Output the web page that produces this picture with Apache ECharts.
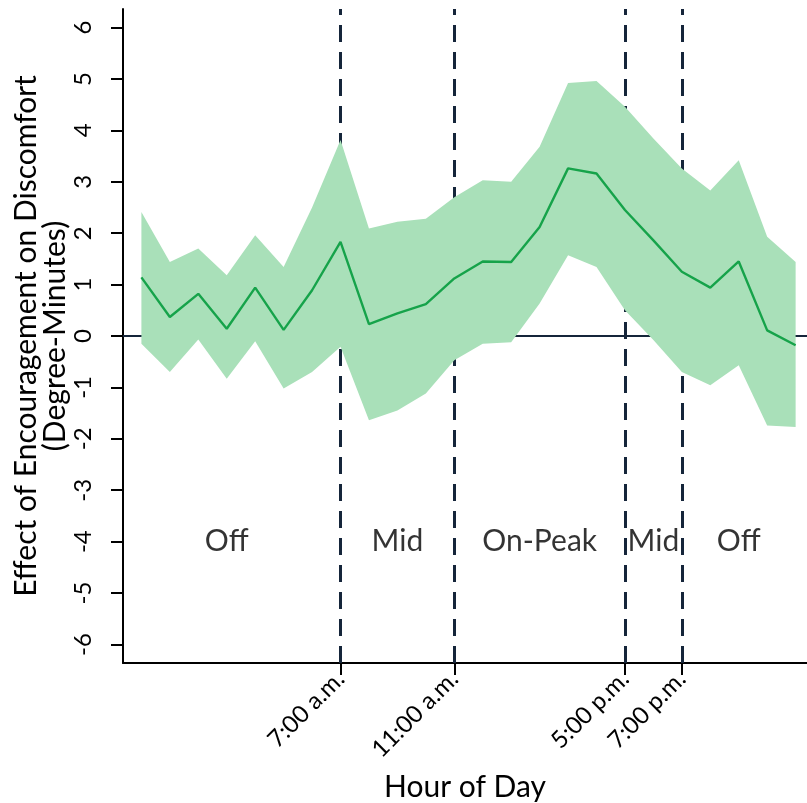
<!DOCTYPE html>
<html>
<head>
<meta charset="utf-8">
<script src="https://cdn.jsdelivr.net/npm/echarts@6/dist/echarts.min.js"></script>
<style>
html,body{margin:0;padding:0;background:#fff;}
#chart{width:807px;height:803px;}
</style>
</head>
<body>
<div id="chart"></div>
<script>
// ---- data ----
const hours = [0,1,2,3,4,5,6,7,8,9,10,11,12,13,14,15,16,17,18,19,20,21,22,23];
const estimate = [1.14,0.37,0.82,0.14,0.94,0.12,0.89,1.83,0.23,0.44,0.62,1.12,1.45,1.44,2.12,3.26,3.16,2.45,1.86,1.25,0.94,1.45,0.11,-0.18];
const upperCI = [2.41,1.44,1.70,1.18,1.96,1.34,2.50,3.81,2.09,2.22,2.28,2.70,3.03,3.00,3.68,4.92,4.96,4.46,3.84,3.26,2.83,3.42,1.93,1.44];
const lowerCI = [-0.15,-0.70,-0.07,-0.83,-0.10,-1.02,-0.70,-0.21,-1.64,-1.45,-1.12,-0.47,-0.15,-0.12,0.63,1.57,1.34,0.50,-0.08,-0.70,-0.96,-0.57,-1.74,-1.77];
const boundaryHours = [7, 11, 17, 19];
const boundaryLabels = ['7:00 a.m.', '11:00 a.m.', '5:00 p.m.', '7:00 p.m.'];
const yTicks = [-6,-5,-4,-3,-2,-1,0,1,2,3,4,5,6];
const periodNames = ['Off', 'Mid', 'On-Peak', 'Mid', 'Off'];
const periodHours = [3, 9, 14, 18, 21];
const periodY = [-4, -4, -4, -4, -4];

const FONT = 'Lato';
const NAVY = '#15253a';

const chart = echarts.init(document.getElementById('chart'), null, {renderer: 'canvas'});

const option = {
  animation: false,
  backgroundColor: '#ffffff',
  textStyle: {fontFamily: FONT},
  grid: {left: 123, right: 0, top: 9, bottom: 140, containLabel: false, outerBoundsMode: 'none'},
  xAxis: [{
    type: 'value',
    min: -0.647,
    max: 23.4,
    position: 'bottom',
    axisLine: {show: true, onZero: false, lineStyle: {color: '#000', width: 2}},
    axisTick: {show: true, customValues: boundaryHours, length: 12, lineStyle: {color: '#000', width: 2}},
    axisLabel: {
      show: true, customValues: boundaryHours, rotate: 45, fontSize: 24, margin: 12,
      color: '#000', fontFamily: FONT,
      formatter: function (v) { const i = boundaryHours.indexOf(Math.round(v)); return i >= 0 ? boundaryLabels[i] : ''; }
    },
    splitLine: {show: false},
    name: 'Hour of Day',
    nameLocation: 'middle',
    nameGap: 109,
    nameMoveOverlap: false,
    nameTextStyle: {fontSize: 30, color: '#000', fontFamily: FONT}
  }, {
    type: 'value',
    min: -0.647,
    max: 23.4,
    position: 'top',
    axisLine: {show: true, lineStyle: {color: '#000', width: 2}},
    axisTick: {show: false},
    axisLabel: {show: false},
    splitLine: {show: false}
  }],
  yAxis: {
    type: 'value',
    min: -6.36,
    max: 6.36,
    axisLine: {show: true, onZero: false, lineStyle: {color: '#000', width: 2}},
    axisTick: {show: true, customValues: yTicks, length: 12, lineStyle: {color: '#000', width: 2}},
    axisLabel: {
      show: true, customValues: yTicks, rotate: 90, fontSize: 24, margin: 28,
      color: '#000', fontFamily: FONT
    },
    splitLine: {show: false},
    name: 'Effect of Encouragement on Discomfort\n(Degree-Minutes)',
    nameLocation: 'middle',
    nameRotate: 90,
    nameGap: 53,
    nameMoveOverlap: false,
    nameTextStyle: {fontSize: 30, lineHeight: 29, color: '#000', fontFamily: FONT, align: 'center'}
  },
  series: [
    {
      // reference lines (zero line + period boundaries), drawn beneath the band
      type: 'line',
      name: 'refs',
      data: hours.map((h, i) => [h, estimate[i]]),
      showSymbol: false,
      lineStyle: {opacity: 0},
      silent: true,
      z: 1,
      markLine: {
        z: 1,
        silent: true,
        symbol: ['none', 'none'],
        label: {show: false},
        animation: false,
        data: [
          {yAxis: 0, lineStyle: {color: NAVY, width: 2, type: 'solid'}}
        ].concat(boundaryHours.map(h => ({xAxis: h, lineStyle: {color: NAVY, width: 3, type: [17, 10]}})))
      }
    },
    {
      type: 'custom',
      name: 'band',
      z: 3,
      silent: true,
      data: hours.map((h, i) => [h, lowerCI[i], upperCI[i]]),
      encode: {x: 0, y: [1, 2]},
      renderItem: function (params, api) {
        if (params.dataIndex !== 0) return null;
        const pts = [];
        for (let i = 0; i < hours.length; i++) pts.push(api.coord([hours[i], upperCI[i]]));
        for (let i = hours.length - 1; i >= 0; i--) pts.push(api.coord([hours[i], lowerCI[i]]));
        return {type: 'polygon', shape: {points: pts}, style: {fill: '#a9e0b9'}};
      }
    },
    {
      type: 'line',
      name: 'estimate',
      z: 4,
      data: hours.map((h, i) => [h, estimate[i]]),
      showSymbol: false,
      symbol: 'none',
      lineStyle: {color: '#16a34a', width: 2.4},
      silent: true
    },
    {
      type: 'scatter',
      name: 'periods',
      z: 5,
      symbolSize: 0,
      silent: true,
      data: periodHours.map((h, i) => ({value: [h, periodY[i]], name: periodNames[i]})),
      label: {
        show: true, position: 'inside', formatter: '{b}',
        fontSize: 30, color: '#000', fontFamily: FONT
      }
    }
  ]
};
chart.setOption(option);
</script>
</body>
</html>
